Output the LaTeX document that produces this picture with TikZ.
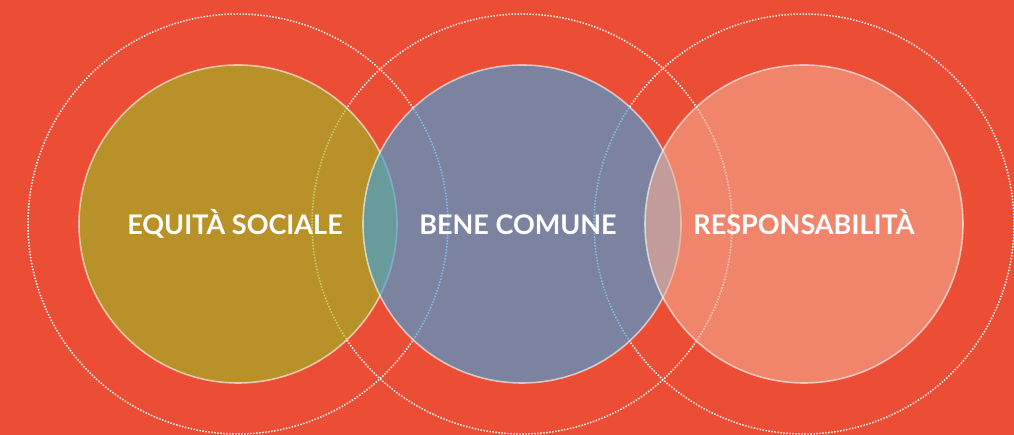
\documentclass[tikz,border=0pt]{standalone}
\usepackage{fontspec}
\setmainfont{Lato}

\definecolor{bgred}{RGB}{235,77,53}
\definecolor{equitacol}{RGB}{158,183,36}
\definecolor{benecol}{RGB}{65,160,218}
\definecolor{respcol}{RGB}{247,175,148}

\begin{document}
\begin{tikzpicture}[x=1pt, y=1pt,
    dotring/.style={white, line width=1.5pt, dash pattern=on 1.4pt off 1.6pt},
    disc/.style={circle, inner sep=0pt, minimum size=318pt, draw=white,
      draw opacity=0.6, line width=1.6pt, text=white, text opacity=1,
      text height=22pt, text depth=0pt,
      font=\fontsize{27}{29}\selectfont\bfseries}]
    \clip (0, 0) rectangle (1014, 435);
    \fill[bgred] (0, 0) rectangle (1014, 435);

    \coordinate (cE) at (238, 211);
    \coordinate (cB) at (522, 211);
    \coordinate (cR) at (804, 211);

    % anelli tratteggiati
    \foreach \c in {cE, cB, cR} \draw[dotring] (\c) circle[radius=210];

    \node[disc, fill=equitacol, fill opacity=0.66] (equita) at (cE)
      {\kern-6pt EQUITÀ SOCIALE};
    \node[disc, fill=benecol, fill opacity=0.66] (bene) at (cB)
      {\kern-8pt BENE COMUNE};
    \node[disc, fill=respcol, fill opacity=0.58] (resp) at (cR)
      {RESPONSABILITÀ};
\end{tikzpicture}
\end{document}
